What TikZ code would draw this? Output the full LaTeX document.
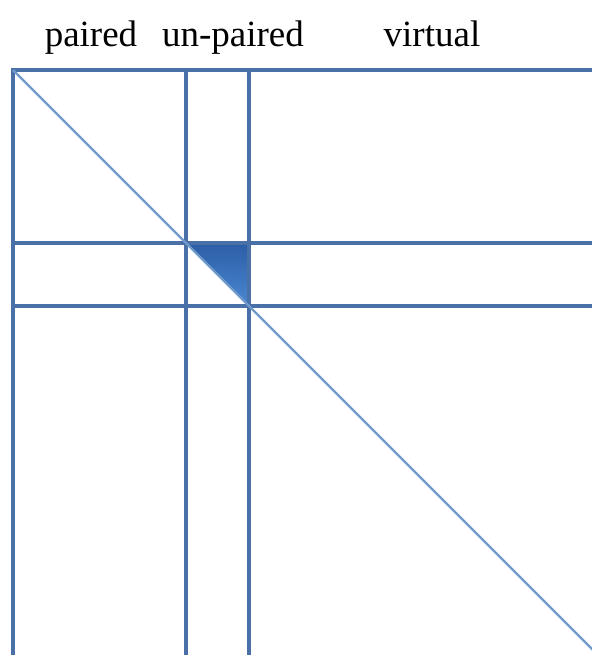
\documentclass[tikz,border=0pt]{standalone}
\usepackage{fontspec}
\setmainfont{Liberation Serif}
\definecolor{grid}{HTML}{4A70A8}
\definecolor{diag}{HTML}{7099CC}
\definecolor{filldark}{HTML}{2C5EA6}
\definecolor{filllight}{HTML}{4A88D2}

\begin{document}
\begin{tikzpicture}[x=0.5pt, y=-0.5pt,
    rule/.style={draw=grid, line width=1.6pt},
    diagonal/.style={draw=diag, line width=1.2pt},
    head/.style={font=\fontsize{18.5}{22}\selectfont, text=black, anchor=base, inner sep=0pt},
    wedge/.style={top color=filldark, bottom color=filllight, draw=none},
  ]
  \useasboundingbox (0,0) rectangle (592,655);
  \clip (0,0) rectangle (592,655);

  % ------------------------------------------------------------ headers
  \node[head] (paired)   at (91,46)  {paired};
  \node[head] (unpaired) at (233,46) {un-paired};
  \node[head] (virtual)  at (432,46) {virtual};

  % ------------------------------------------------------------ grid
  \coordinate (tl) at (13,70);
  \coordinate (a)  at (186,243);
  \coordinate (b)  at (249,306);

  \shade[wedge] (a) -- (b |- a) -- (b) -- cycle;

  \draw[rule] (tl |- 0,700) -- (tl) -- (600,70);
  \draw[rule] (a |- tl) -- (a |- 0,700);
  \draw[rule] (b |- tl) -- (b |- 0,700);
  \draw[rule] (tl |- a) -- (600,243);
  \draw[rule] (tl |- b) -- (600,306);

  % ------------------------------------------------------------ diagonal
  \draw[diagonal] (tl) -- (600,657);
\end{tikzpicture}
\end{document}
